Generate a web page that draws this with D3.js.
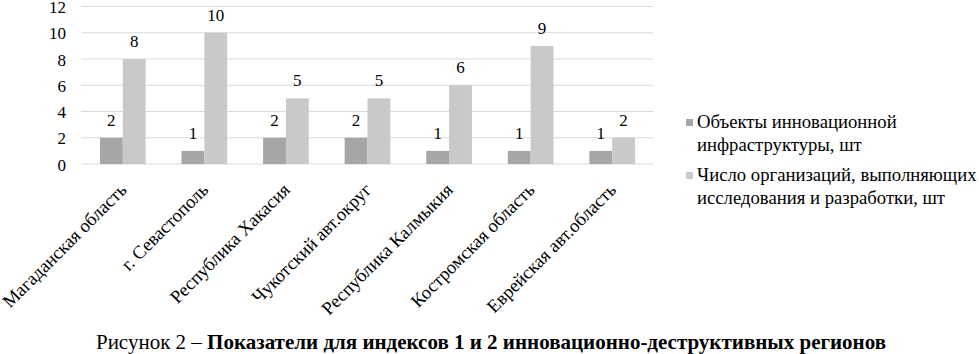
<!DOCTYPE html>
<html><head><meta charset="utf-8">
<script src="https://cdn.jsdelivr.net/npm/d3@7/dist/d3.min.js"></script>
<style>
html,body{margin:0;padding:0;background:#fff;}
svg{display:block;}
svg text{font-family:'Liberation Serif','Times New Roman','DejaVu Serif',serif !important;}
</style></head>
<body>
<svg id="chart" width="979" height="354"></svg>
<script>
const categories = ["Магаданская область","г. Севастополь","Республика Хакасия","Чукотский авт.округ","Республика Калмыкия","Костромская область","Еврейская авт.область"];
const seriesNames = ["Объекты инновационной инфраструктуры, шт","Число организаций, выполняющих исследования и разработки, шт"];
const legendLines = [["Объекты инновационной","инфраструктуры, шт"],["Число организаций, выполняющих","исследования и разработки, шт"]];
const infraObjects = [2,1,2,2,1,1,1];
const researchOrgs = [8,10,5,5,6,9,2];
const yTicks = [0,2,4,6,8,10,12];
const colors = ["#a6a6a6","#c9c9c9"];
const captionNormal = "Рисунок 2 – ";
const captionBold = "Показатели для индексов 1 и 2 инновационно-деструктивных регионов";

(function(){
const FF = "'Liberation Serif', 'Times New Roman', 'DejaVu Serif', serif";
const svg = d3.select("#chart").attr("font-family", FF);
const pLeft = 81, pRight = 653, pTop = 6.5, pBottom = 164;
const x = d3.scaleBand().domain(categories).range([pLeft+1, pRight]).paddingInner(0.44).paddingOuter(0.22);
const x1 = d3.scaleBand().domain([0,1]).range([0, x.bandwidth()]);
const y = d3.scaleLinear().domain([0,12]).range([pBottom, pTop]);

svg.append("g").selectAll("line").data(yTicks).join("line")
  .attr("x1", pLeft).attr("x2", pRight)
  .attr("y1", d => y(d)).attr("y2", d => y(d))
  .attr("stroke", "#d9d9d9").attr("stroke-width", 1);

const yAxis = d3.axisLeft(y).tickValues(yTicks).tickSize(0).tickPadding(0);
const ya = svg.append("g").attr("transform", `translate(${66},0)`).call(yAxis)
  .attr("font-family", FF).attr("font-size", 17);
ya.select(".domain").remove();
ya.selectAll("text").attr("fill","#000").attr("dy","0.36em");

const data = categories.map((c,i) => ({c, vals:[infraObjects[i], researchOrgs[i]]}));
const g = svg.append("g").selectAll("g").data(data).join("g").attr("transform", d => `translate(${x(d.c)},0)`);
g.selectAll("rect").data(d => d.vals.map((v,k)=>({v,k}))).join("rect")
  .attr("x", d => x1(d.k)).attr("width", x1.bandwidth())
  .attr("y", d => y(d.v)).attr("height", d => y(0)-y(d.v))
  .attr("fill", d => colors[d.k]);
g.selectAll("text").data(d => d.vals.map((v,k)=>({v,k}))).join("text")
  .attr("x", d => x1(d.k) + x1.bandwidth()/2).attr("y", d => y(d.v) - 12)
  .attr("text-anchor","middle").attr("font-size",17).attr("fill","#000")
  .text(d => d.v);

const xAxis = d3.axisBottom(x).tickSize(0).tickPadding(0);
const xa = svg.append("g").attr("transform", `translate(0,${pBottom})`).call(xAxis)
  .attr("font-family", FF).attr("font-size", 18.5);
xa.select(".domain").remove();
xa.selectAll("text")
  .attr("fill","#000")
  .attr("text-anchor","end").attr("dy",null).attr("y",null)
  .attr("transform","translate(5,27) rotate(-45)");

const lg = svg.append("g").attr("font-size", 18.7);
legendLines.forEach((lines, i) => {
  const by = 128 + i*53;
  lg.append("rect").attr("x",686).attr("y",by-9).attr("width",7).attr("height",7).attr("fill",colors[i]);
  const t = lg.append("text").attr("x",697).attr("y",by).attr("fill","#000");
  lines.forEach((ln,j) => t.append("tspan").attr("x",697).attr("dy", j===0?0:23).text(ln));
});

const cap = svg.append("text").attr("x",491).attr("y",349).attr("text-anchor","middle")
  .attr("font-size",21).attr("fill","#000");
cap.append("tspan").text(captionNormal);
cap.append("tspan").attr("font-weight","bold").text(captionBold);
})();
</script>
</body></html>
